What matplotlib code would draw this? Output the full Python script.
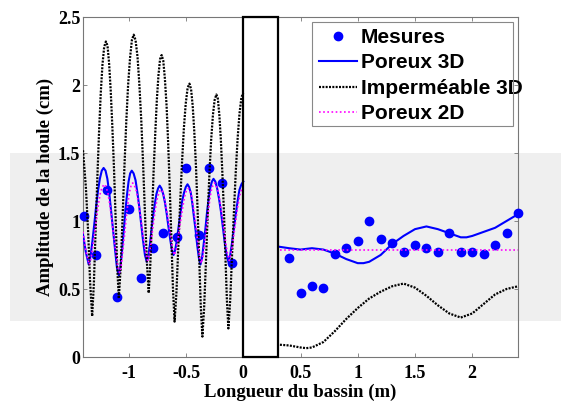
import matplotlib
matplotlib.use("Agg")
import matplotlib.pyplot as plt
from matplotlib.patches import Rectangle

# ---------------- data ----------------
# Imperméable 3D, left part (x < 0)
imp_left_x = [-1.400, -1.375, -1.355, -1.338, -1.320,
              -1.305, -1.290, -1.275, -1.260, -1.245, -1.230, -1.215, -1.200,
              -1.186, -1.172, -1.158, -1.144, -1.129, -1.115, -1.101, -1.087,
              -1.071, -1.054, -1.038, -1.022, -1.006, -0.989, -0.973, -0.957,
              -0.941, -0.924, -0.908, -0.891, -0.875, -0.859, -0.842, -0.826,
              -0.812, -0.798, -0.784, -0.769, -0.755, -0.741, -0.727, -0.713,
              -0.699, -0.685, -0.670, -0.656, -0.642, -0.628, -0.614, -0.600,
              -0.584, -0.568, -0.551, -0.535, -0.519, -0.503, -0.486, -0.470,
              -0.456, -0.442, -0.428, -0.413, -0.399, -0.385, -0.371, -0.357,
              -0.342, -0.326, -0.311, -0.296, -0.281, -0.265, -0.250, -0.235,
              -0.222, -0.209, -0.196, -0.183, -0.169, -0.156, -0.143, -0.130,
              -0.114, -0.098, -0.081, -0.065, -0.049, -0.033, -0.016, 0.000]
imp_left_y = [1.52, 1.25, 0.92, 0.55, 0.30,
              0.54, 0.93, 1.31, 1.65, 1.94, 2.15, 2.28, 2.32,
              2.29, 2.16, 1.96, 1.70, 1.38, 1.02, 0.66, 0.43,
              0.66, 1.03, 1.40, 1.73, 2.00, 2.20, 2.33, 2.37,
              2.33, 2.21, 2.01, 1.74, 1.42, 1.06, 0.70, 0.47,
              0.68, 1.01, 1.35, 1.64, 1.89, 2.07, 2.19, 2.22,
              2.18, 2.05, 1.85, 1.57, 1.24, 0.87, 0.50, 0.26,
              0.47, 0.80, 1.14, 1.43, 1.68, 1.86, 1.98, 2.01,
              1.97, 1.85, 1.66, 1.40, 1.08, 0.73, 0.37, 0.15,
              0.36, 0.70, 1.04, 1.34, 1.59, 1.78, 1.89, 1.93,
              1.90, 1.78, 1.60, 1.36, 1.07, 0.74, 0.42, 0.21,
              0.42, 0.75, 1.08, 1.37, 1.61, 1.79, 1.91, 1.94]
# Imperméable 3D, right part
imp_right_x = [0.32, 0.40, 0.50, 0.55, 0.60, 0.70, 0.80, 0.90, 1.00, 1.10, 1.20, 1.30,
               1.40, 1.50, 1.60, 1.70, 1.80, 1.90, 2.00, 2.10, 2.20, 2.30, 2.40]
imp_right_y = [0.09, 0.085, 0.07, 0.065, 0.07, 0.11, 0.19, 0.28, 0.36, 0.43, 0.48, 0.52,
               0.54, 0.51, 0.45, 0.38, 0.32, 0.29, 0.32, 0.39, 0.46, 0.50, 0.52]

# Poreux 3D, left part
p3_left_x = [-1.400, -1.375, -1.350,
             -1.334, -1.318, -1.301, -1.285, -1.269, -1.253, -1.236, -1.220,
             -1.203, -1.187, -1.170, -1.154, -1.137, -1.120, -1.104, -1.087,
             -1.073, -1.059, -1.045, -1.031, -1.016, -1.002, -0.988, -0.974,
             -0.958, -0.941, -0.925, -0.908, -0.892, -0.876, -0.859, -0.843,
             -0.829, -0.815, -0.801, -0.787, -0.772, -0.758, -0.744, -0.730,
             -0.715, -0.700, -0.685, -0.670, -0.654, -0.639, -0.624, -0.609,
             -0.594, -0.578, -0.563, -0.548, -0.533, -0.517, -0.502, -0.487,
             -0.473, -0.459, -0.445, -0.431, -0.416, -0.402, -0.388, -0.374,
             -0.360, -0.346, -0.331, -0.317, -0.303, -0.289, -0.274, -0.260,
             -0.244, -0.228, -0.211, -0.195, -0.179, -0.163, -0.146, -0.130,
             -0.114, -0.098, -0.081, -0.065, -0.049, -0.033, -0.016, 0.000]
p3_left_y = [0.90, 0.77, 0.68,
             0.74, 0.85, 0.98, 1.11, 1.22, 1.31, 1.37, 1.39,
             1.37, 1.31, 1.20, 1.07, 0.93, 0.79, 0.66, 0.60,
             0.66, 0.78, 0.92, 1.06, 1.19, 1.29, 1.35, 1.37,
             1.35, 1.30, 1.21, 1.10, 0.98, 0.86, 0.75, 0.70,
             0.74, 0.83, 0.94, 1.04, 1.13, 1.20, 1.24, 1.26,
             1.24, 1.20, 1.14, 1.06, 0.96, 0.87, 0.79, 0.75,
             0.79, 0.87, 0.97, 1.06, 1.15, 1.21, 1.25, 1.27,
             1.25, 1.21, 1.13, 1.03, 0.93, 0.82, 0.73, 0.68,
             0.73, 0.83, 0.94, 1.06, 1.16, 1.24, 1.29, 1.31,
             1.29, 1.24, 1.16, 1.07, 0.96, 0.85, 0.75, 0.70,
             0.75, 0.84, 0.95, 1.05, 1.15, 1.23, 1.27, 1.29]
# Poreux 3D, right part
p3_right_x = [0.32, 0.40, 0.50, 0.60, 0.70, 0.80, 0.90, 1.00, 1.05, 1.10, 1.20, 1.30,
              1.40, 1.50, 1.60, 1.70, 1.80, 1.90, 1.95, 2.00, 2.10, 2.20, 2.30, 2.40]
p3_right_y = [0.81, 0.80, 0.79, 0.80, 0.79, 0.76, 0.72, 0.69, 0.69, 0.70, 0.75, 0.83,
              0.89, 0.94, 0.96, 0.94, 0.91, 0.88, 0.88, 0.89, 0.92, 0.95, 1.00, 1.05]

# Poreux 2D, left part
p2_left_x = [-1.400, -1.375, -1.345,
             -1.329, -1.313, -1.296, -1.280, -1.264, -1.248, -1.231, -1.215,
             -1.198, -1.181, -1.164, -1.148, -1.131, -1.114, -1.097, -1.080,
             -1.066, -1.052, -1.037, -1.023, -1.009, -0.995, -0.980, -0.966,
             -0.950, -0.933, -0.917, -0.900, -0.884, -0.868, -0.851, -0.835,
             -0.821, -0.807, -0.793, -0.779, -0.764, -0.750, -0.736, -0.722,
             -0.707, -0.692, -0.677, -0.662, -0.646, -0.631, -0.616, -0.601,
             -0.586, -0.570, -0.555, -0.540, -0.525, -0.509, -0.494, -0.479,
             -0.465, -0.451, -0.437, -0.423, -0.408, -0.394, -0.380, -0.366,
             -0.352, -0.338, -0.323, -0.309, -0.295, -0.281, -0.266, -0.252,
             -0.236, -0.220, -0.203, -0.187, -0.171, -0.155, -0.138, -0.122,
             -0.107, -0.091, -0.076, -0.061, -0.046, -0.030, -0.015, 0.000]
p2_left_y = [0.92, 0.78, 0.68,
             0.73, 0.82, 0.93, 1.03, 1.13, 1.21, 1.25, 1.27,
             1.25, 1.20, 1.11, 1.01, 0.89, 0.78, 0.67, 0.62,
             0.67, 0.78, 0.90, 1.02, 1.12, 1.21, 1.26, 1.28,
             1.26, 1.22, 1.14, 1.05, 0.95, 0.85, 0.76, 0.71,
             0.75, 0.83, 0.93, 1.02, 1.11, 1.17, 1.21, 1.23,
             1.22, 1.18, 1.11, 1.04, 0.95, 0.87, 0.79, 0.75,
             0.79, 0.87, 0.96, 1.04, 1.12, 1.19, 1.23, 1.24,
             1.22, 1.18, 1.11, 1.02, 0.92, 0.82, 0.73, 0.69,
             0.74, 0.83, 0.94, 1.04, 1.14, 1.22, 1.26, 1.28,
             1.26, 1.22, 1.14, 1.05, 0.95, 0.85, 0.76, 0.71,
             0.76, 0.84, 0.94, 1.03, 1.12, 1.19, 1.23, 1.24]
# Poreux 2D, right part
p2_right_x = [0.32, 2.40]
p2_right_y = [0.79, 0.79]

# Mesures
mes_x = [-1.39, -1.29, -1.19, -1.10, -1.00, -0.89, -0.79, -0.70, -0.58, -0.50, -0.39,
         -0.30, -0.19, -0.10,
         0.40, 0.50, 0.60, 0.70, 0.80, 0.90, 1.00, 1.10, 1.20, 1.30, 1.40, 1.50,
         1.60, 1.70, 1.80, 1.90, 2.00, 2.10, 2.20, 2.30, 2.40]
mes_y = [1.04, 0.75, 1.23, 0.44, 1.09, 0.58, 0.80, 0.91, 0.88, 1.39, 0.90,
         1.39, 1.28, 0.69,
         0.73, 0.47, 0.52, 0.51, 0.76, 0.80, 0.85, 1.00, 0.87, 0.84, 0.77, 0.82,
         0.80, 0.77, 0.91, 0.77, 0.77, 0.76, 0.82, 0.91, 1.06]

# structure (porous block) position
struct_x = [0.0, 0.3]

xticks = [-1, -0.5, 0, 0.5, 1, 1.5, 2]
xticklabels = ['-1', '-0.5', '0', '0.5', '1', '1.5', '2']
yticks = [0, 0.5, 1, 1.5, 2, 2.5]
yticklabels = ['0', '0.5', '1', '1.5', '2', '2.5']

labels = ['Mesures', 'Poreux 3D', 'Imperméable 3D', 'Poreux 2D']
xlabel = 'Longueur du bassin (m)'
ylabel = 'Amplitude de la houle (cm)'

# ---------------- figure ----------------
W, H = 561, 403
fig = plt.figure(figsize=(W / 100, H / 100), dpi=100)
fig.patch.set_facecolor('white')

# grey scanning band across the figure
band = Rectangle((10 / W, (H - 321) / H), 1 - 10 / W, (321 - 153) / H,
                 transform=fig.transFigure, facecolor='#efefef',
                 edgecolor='none', zorder=-5)
fig.add_artist(band)

ax = fig.add_axes([83 / W, (H - 357) / H, (518 - 83) / W, (357 - 17) / H])
ax.patch.set_alpha(0)

serif = 'Liberation Serif'
sans = 'Liberation Sans'

dots = (0, (0.9, 0.6))

l_mes, = ax.plot(mes_x, mes_y, 'o', color='#0000ff', ms=6, mec='#0000ff',
                 zorder=3, clip_on=False, label=labels[0])
l_p3, = ax.plot(p3_left_x, p3_left_y, '-', color='#0000ff', lw=1.5, zorder=4,
                label=labels[1])
ax.plot(p3_right_x, p3_right_y, '-', color='#0000ff', lw=1.5, zorder=4)
l_imp, = ax.plot(imp_left_x, imp_left_y, color='black', lw=1.6,
                 linestyle=dots, zorder=5, label=labels[2])
ax.plot(imp_right_x, imp_right_y, color='black', lw=1.6,
        linestyle=dots, zorder=5)
l_p2, = ax.plot(p2_left_x, p2_left_y, color='#ff00ff', lw=1.2,
                linestyle=(0, (1, 1.5)), zorder=6, label=labels[3])
ax.plot(p2_right_x, p2_right_y, color='#ff00ff', lw=1.2,
        linestyle=(0, (1, 1.5)), zorder=6)

ax.set_xlim(-1.4, 2.4)
ax.set_ylim(0, 2.5)

# porous structure block
ax.add_patch(Rectangle((struct_x[0], 0), struct_x[1] - struct_x[0], 2.5,
                       fill=False, edgecolor='black', lw=1.6, zorder=7,
                       clip_on=False))

ax.set_xticks(xticks)
ax.set_xticklabels(xticklabels)
ax.set_yticks(yticks)
ax.set_yticklabels(yticklabels)
ax.tick_params(direction='in', length=3, width=0.6, color='#777777',
               top=True, right=True, labelsize=13)
ax.tick_params(axis='x', pad=6)
ax.tick_params(axis='y', pad=2)
for lab in ax.get_xticklabels() + ax.get_yticklabels():
    lab.set_fontfamily(serif)
    lab.set_fontweight('bold')
for s in ax.spines.values():
    s.set_color('#777777')
    s.set_linewidth(0.8)

ax.set_xlabel(xlabel, fontfamily=serif, fontweight='bold', fontsize=13.5,
              labelpad=1)
ax.set_ylabel(ylabel, fontfamily=serif, fontweight='bold', fontsize=13.5,
              labelpad=3)

# legend (MATLAB style: frame narrower than the text)
leg = fig.legend(handles=[l_mes, l_p3, l_imp, l_p2], labels=labels,
                 loc='upper left', bbox_to_anchor=(319 / W, (H - 28) / H),
                 frameon=False, borderpad=0, borderaxespad=0,
                 handlelength=1.8, handletextpad=0.2, labelspacing=0.31,
                 prop={'family': sans, 'weight': 'bold', 'size': 15},
                 numpoints=1)
fig.add_artist(Rectangle((312 / W, (H - 126) / H), (513 - 312) / W, (126 - 22) / H,
                         transform=fig.transFigure, fill=False,
                         edgecolor='#888888', lw=0.8, zorder=10))

fig.savefig('out.png', dpi=100)
